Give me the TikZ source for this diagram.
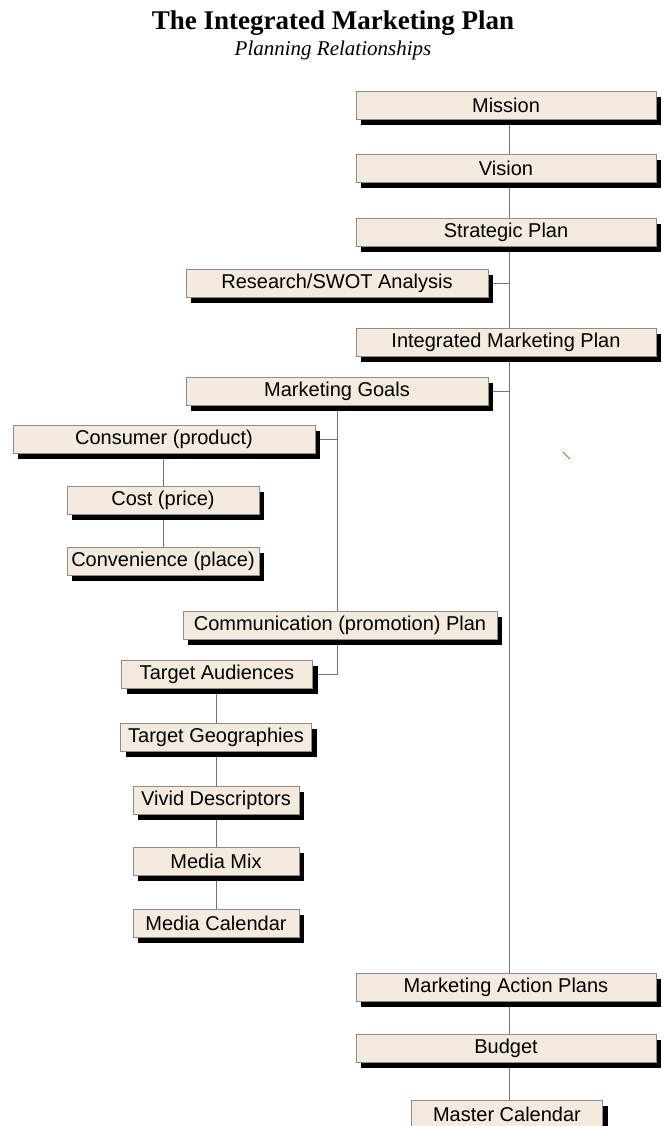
\documentclass[tikz,border=0pt]{standalone}
\usepackage{fontspec}
\setmainfont{Liberation Serif}
\newfontfamily\boxfont{Liberation Sans}
\usetikzlibrary{shadows,backgrounds}
\definecolor{boxfill}{RGB}{244,234,222}
\tikzset{
	planbox/.style={draw=black!45, line width=0.6pt, fill=boxfill, minimum height=28pt, inner sep=0pt,
		font=\boxfont\fontsize{20}{20}\selectfont,
		drop shadow={shadow xshift=5pt, shadow yshift=-6pt, fill=black, opacity=1}},
	link/.style={line width=0.8pt, color=black!55}
}

\begin{document}
\begin{tikzpicture}[x=1pt, y=-1pt]
		%%%%% START %%%%%
		\useasboundingbox (0, 0) rectangle (662, 1126);
		\clip (0, 0) rectangle (662, 1126);
		
		\node[font=\bfseries\fontsize{27}{27}\selectfont] (title) at (333, 23) {The Integrated Marketing Plan};
		\node[font=\itshape\fontsize{21}{21}\selectfont] (subtitle) at (333, 50) {Planning Relationships};
		
		\node[planbox, minimum width=300pt] (mission) at (506, 105) {Mission};
		\node[planbox, minimum width=300pt] (vision) at (506, 168) {Vision};
		\node[planbox, minimum width=300pt] (strategic) at (506, 232) {Strategic Plan};
		\node[planbox, minimum width=302pt] (research) at (337, 283) {Research/SWOT Analysis};
		\node[planbox, minimum width=300pt] (integrated) at (506, 342) {Integrated Marketing Plan};
		\node[planbox, minimum width=302pt] (goals) at (337, 391) {Marketing Goals};
		
		\node[planbox, minimum width=302pt] (consumer) at (164, 439) {Consumer (product)};
		\node[planbox, minimum width=192pt] (cost) at (163, 500) {Cost (price)};
		\node[planbox, minimum width=192pt] (convenience) at (163, 561) {Convenience (place)};
		
		\node[planbox, minimum width=314pt] (communication) at (340, 625) {Communication (promotion) Plan};
		\node[planbox, minimum width=191pt] (audiences) at (217, 674) {Target Audiences};
		\node[planbox, minimum width=191pt] (geographies) at (216, 737) {Target Geographies};
		\node[planbox, minimum width=166pt] (descriptors) at (216, 800) {Vivid Descriptors};
		\node[planbox, minimum width=166pt] (mediamix) at (216, 861) {Media Mix};
		\node[planbox, minimum width=166pt] (mediacal) at (216, 923) {Media Calendar};
		
		\node[planbox, minimum width=300pt] (actionplans) at (506, 987) {Marketing Action Plans};
		\node[planbox, minimum width=300pt] (budget) at (506, 1048) {Budget};
		\node[planbox, minimum width=191pt] (master) at (507, 1114) {Master Calendar};
		
		\coordinate (trunk) at (509, 0);
		\coordinate (branch) at (337, 0);
		\coordinate (chain) at (216, 0);
		
		\begin{pgfonlayer}{background}
		\draw[link] (mission.south -| trunk) -- (master.north -| trunk);
		\draw[link] (research.east) -- (research.east -| trunk);
		\draw[link] (goals.east) -- (goals.east -| trunk);
		\draw[link] (goals.south -| branch) -- (audiences.east -| branch) -- (audiences.east);
		\draw[link] (consumer.east) -- (consumer.east -| branch);
		\draw[link] (consumer.south -| cost) -- (convenience.north);
		\draw[link] (audiences.south -| chain) -- (mediacal.north -| chain);
		\end{pgfonlayer}
		
		\draw[line width=1pt, color=brown!70!red] (563, 452) -- (570, 459);
		
		%%%%% END %%%%%
\end{tikzpicture}
\end{document}
